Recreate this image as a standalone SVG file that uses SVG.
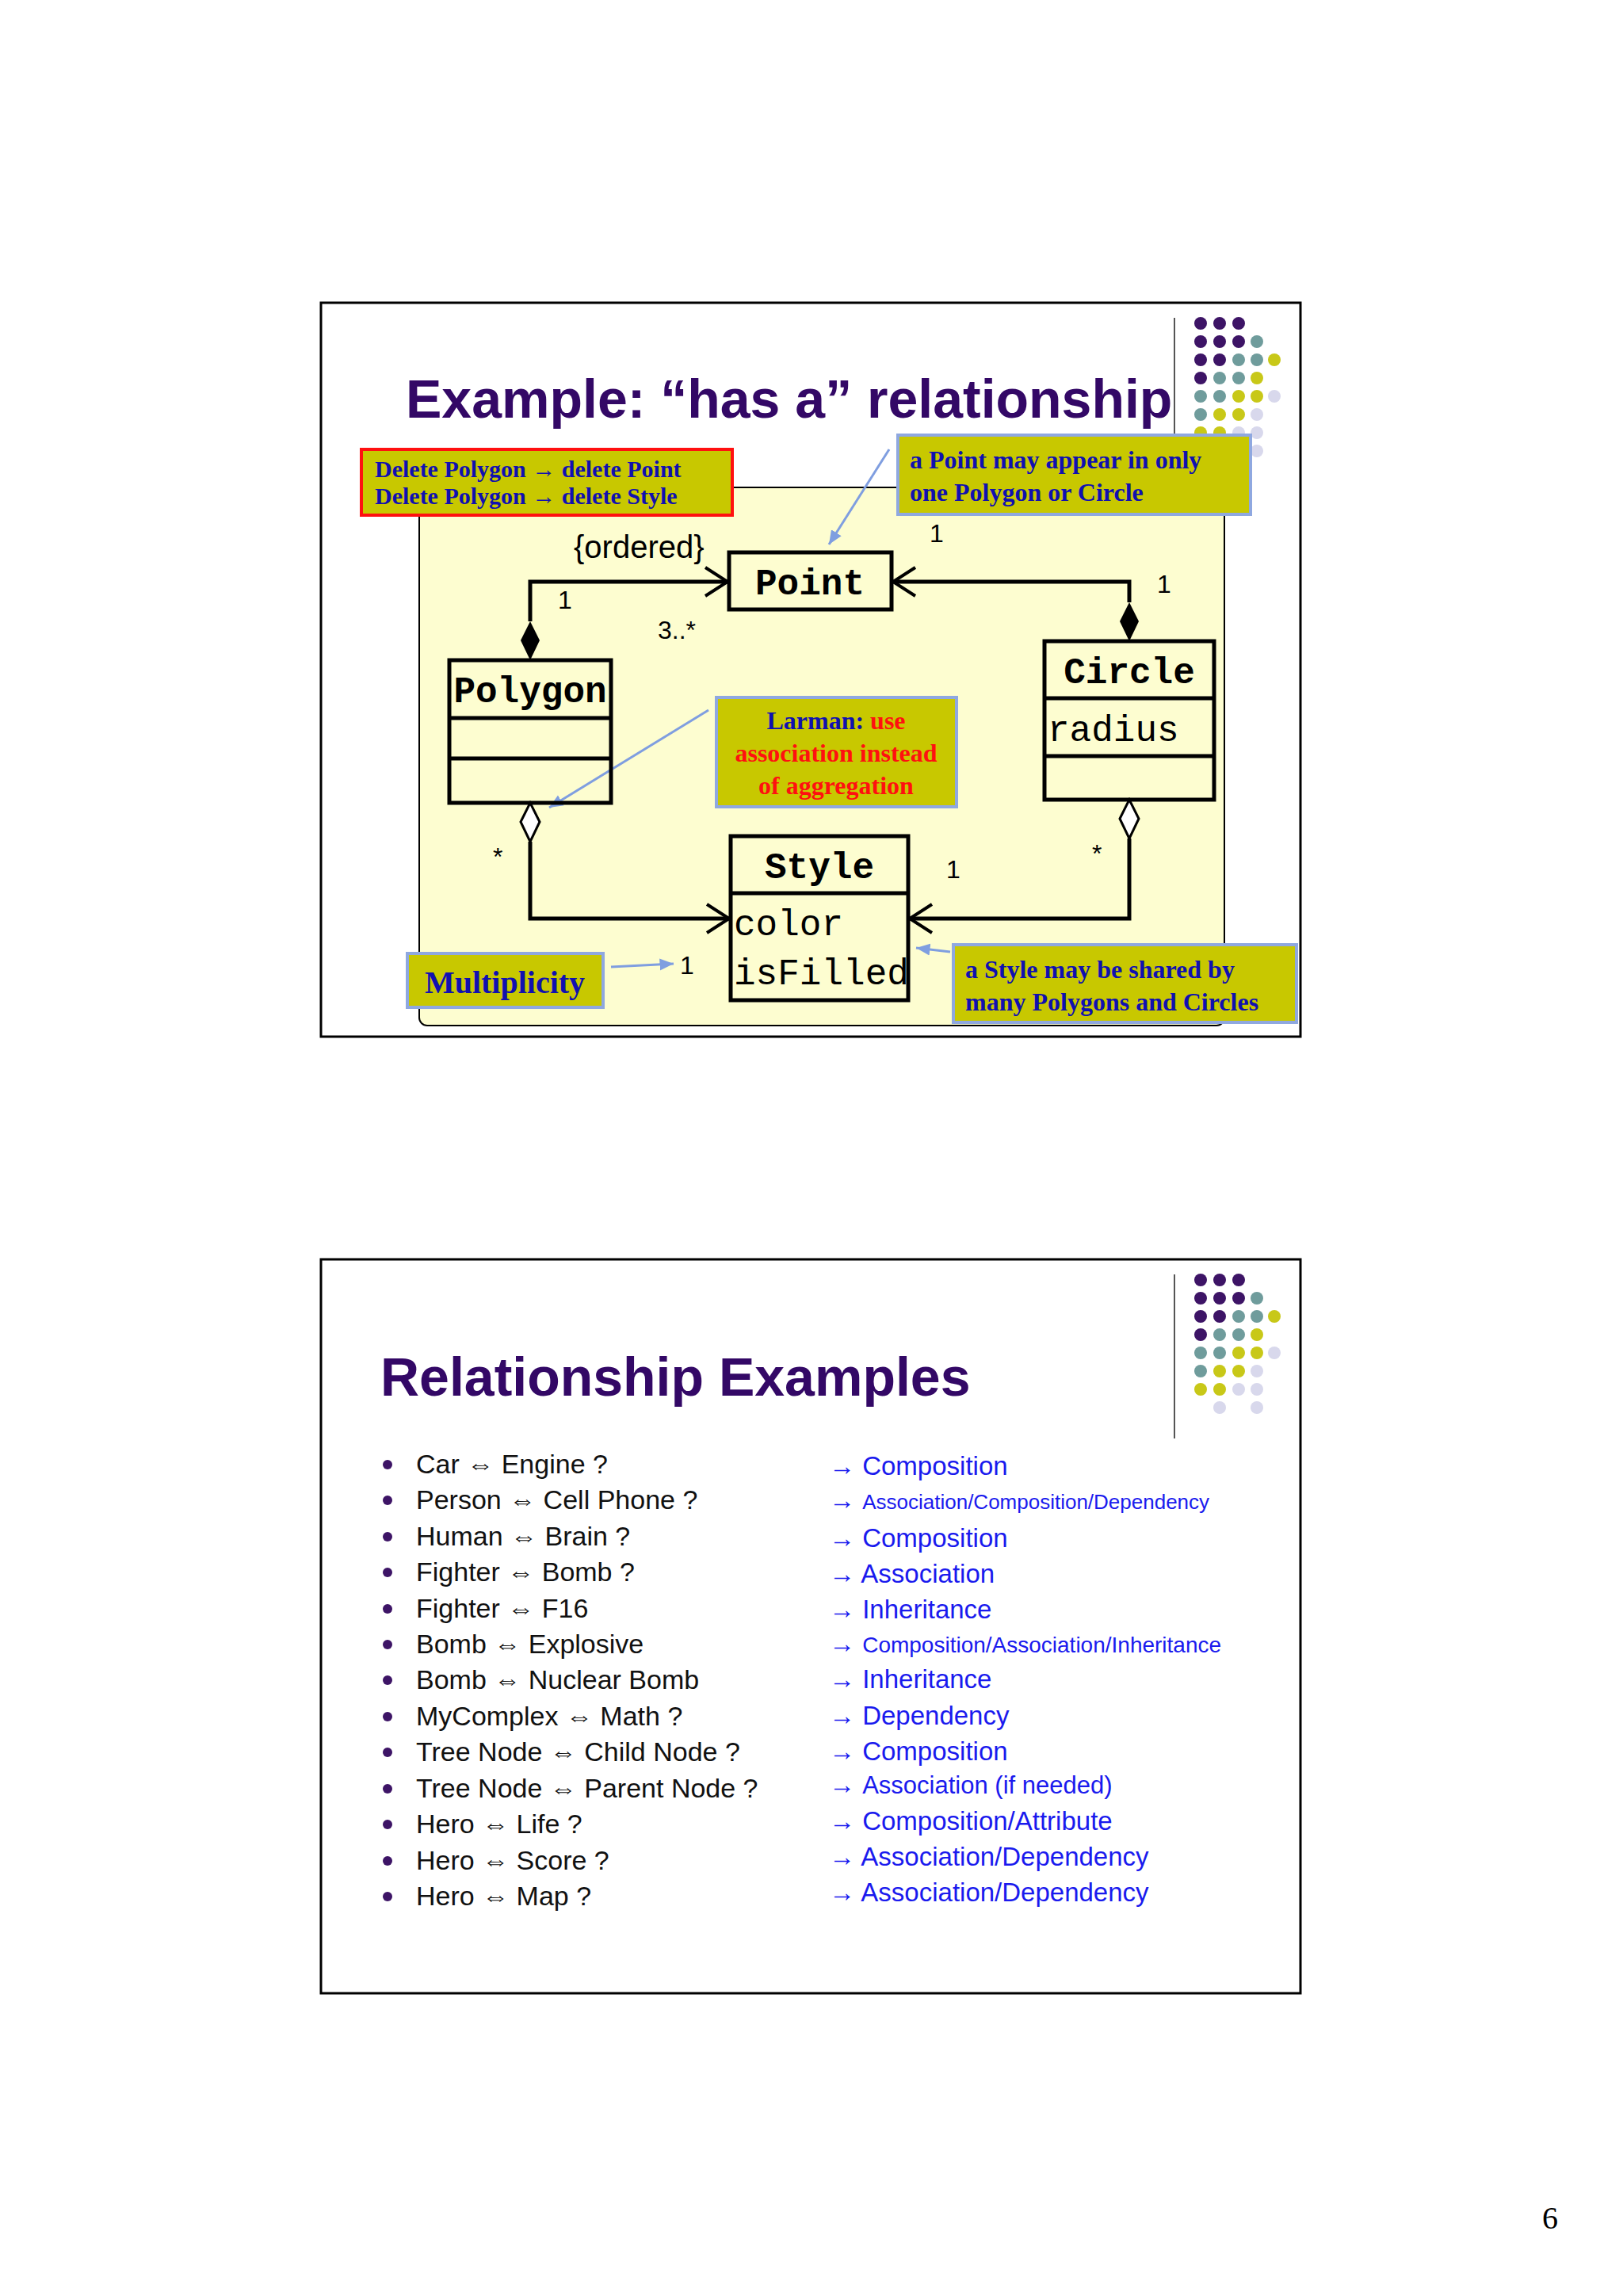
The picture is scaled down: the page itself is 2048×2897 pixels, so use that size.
<svg xmlns="http://www.w3.org/2000/svg" width="2048" height="2897" viewBox="0 0 2048 2897">
<defs>
<style>
.frame{fill:#fff;stroke:#000;stroke-width:3}
.title{font-family:"Liberation Sans",Arial,sans-serif;font-weight:bold;fill:#330866;font-size:68px}
.cls{fill:none;stroke:#000;stroke-width:5}
.mono{font-family:"Liberation Mono","DejaVu Sans Mono",monospace;font-size:46px;fill:#000}
.monob{font-family:"Liberation Mono","DejaVu Sans Mono",monospace;font-size:46px;font-weight:bold;fill:#000}
.line{fill:none;stroke:#000;stroke-width:5}
.lbl{font-family:"Liberation Sans",Arial,sans-serif;font-size:32px;fill:#000}
.note{fill:#c8c800;stroke:#8fa8e0;stroke-width:4}
.nt{font-family:"Liberation Serif","Times New Roman",serif;font-weight:bold;font-size:32px;fill:#1010b0}
.red{fill:#ff1010}
.pt{stroke:#7f9ee0;stroke-width:3;fill:none}
.item{font-family:"Liberation Sans",Arial,"DejaVu Sans",sans-serif;font-size:34px;fill:#111}
.ans{font-family:"Liberation Sans",Arial,"DejaVu Sans",sans-serif;font-size:33px;fill:#1a1aee}
.p{fill:#3d1466}.t{fill:#6f9c9c}.y{fill:#c8c818}.l{fill:#d8d8ec}
</style>
<marker id="open" markerWidth="40" markerHeight="40" refX="0" refY="0" viewBox="-30 -20 40 40" orient="auto" markerUnits="userSpaceOnUse">
<path d="M-28,-18 L0,0 L-28,18" fill="none" stroke="#000" stroke-width="4"/>
</marker>
<marker id="blue" markerWidth="20" markerHeight="20" refX="0" refY="0" viewBox="-14 -8 16 16" orient="auto" markerUnits="userSpaceOnUse">
<path d="M-14,-6 L0,0 L-14,6 z" fill="#7f9ee0"/>
</marker>
<g id="dots">
<circle class="p" cx="0" cy="0" r="8"/><circle class="p" cx="24" cy="0" r="8"/><circle class="p" cx="48" cy="0" r="8"/>
<circle class="p" cx="0" cy="23" r="8"/><circle class="p" cx="24" cy="23" r="8"/><circle class="p" cx="48" cy="23" r="8"/><circle class="t" cx="71" cy="23" r="8"/>
<circle class="p" cx="0" cy="46" r="8"/><circle class="p" cx="24" cy="46" r="8"/><circle class="t" cx="48" cy="46" r="8"/><circle class="t" cx="71" cy="46" r="8"/><circle class="y" cx="93" cy="46" r="8"/>
<circle class="p" cx="0" cy="69" r="8"/><circle class="t" cx="24" cy="69" r="8"/><circle class="t" cx="48" cy="69" r="8"/><circle class="y" cx="71" cy="69" r="8"/>
<circle class="t" cx="0" cy="92" r="8"/><circle class="t" cx="24" cy="92" r="8"/><circle class="y" cx="48" cy="92" r="8"/><circle class="y" cx="71" cy="92" r="8"/><circle class="l" cx="93" cy="92" r="8"/>
<circle class="t" cx="0" cy="115" r="8"/><circle class="y" cx="24" cy="115" r="8"/><circle class="y" cx="48" cy="115" r="8"/><circle class="l" cx="71" cy="115" r="8"/>
<circle class="y" cx="0" cy="138" r="8"/><circle class="y" cx="24" cy="138" r="8"/><circle class="l" cx="48" cy="138" r="8"/><circle class="l" cx="71" cy="138" r="8"/>
<circle class="l" cx="24" cy="161" r="8"/><circle class="l" cx="71" cy="161" r="8"/>
</g>
</defs>
<rect width="2048" height="2897" fill="#fff"/>

<!-- Slide 1 -->
<g id="slide1">
<rect class="frame" x="405" y="382" width="1236" height="926"/>
<line x1="1482" y1="401" x2="1482" y2="554" stroke="#555" stroke-width="2"/>
<use href="#dots" x="1515" y="408"/>
<text class="title" x="512" y="527">Example: “has a” relationship</text>
<rect x="529" y="615" width="1016" height="679" fill="#fdfdd0" stroke="#000" stroke-width="2" rx="10"/>
</g>

<g id="connectors">
<polyline class="line" points="669,784 669,734 918,734" marker-end="url(#open)"/>
<path d="M669,784 L681,808 L669,833 L657,808 z" fill="#000"/>
<polyline class="line" points="1425,760 1425,734 1127,734" marker-end="url(#open)"/>
<path d="M1425,760 L1437,784 L1425,809 L1413,784 z" fill="#000"/>
<polyline class="line" points="669,1062 669,1159 920,1159" marker-end="url(#open)"/>
<path d="M669,1013 L681,1037 L669,1062 L657,1037 z" fill="#fff" stroke="#000" stroke-width="3"/>
<polyline class="line" points="1425,1058 1425,1159 1148,1159" marker-end="url(#open)"/>
<path d="M1425,1009 L1437,1033 L1425,1058 L1413,1033 z" fill="#fff" stroke="#000" stroke-width="3"/>
<line class="pt" x1="1122" y1="567" x2="1046" y2="687" marker-end="url(#blue)"/>
<line class="pt" x1="894" y1="896" x2="693" y2="1019" marker-end="url(#blue)"/>
<line class="pt" x1="771" y1="1220" x2="850" y2="1216" marker-end="url(#blue)"/>
<line class="pt" x1="1199" y1="1201" x2="1156" y2="1196" marker-end="url(#blue)"/>
</g>

<g id="labels">
<text class="lbl" x="724" y="704" font-size="40" style="font-size:40px">{ordered}</text>
<text class="lbl" x="704" y="768">1</text>
<text class="lbl" x="830" y="806">3..*</text>
<text class="lbl" x="1173" y="684">1</text>
<text class="lbl" x="1460" y="748">1</text>
<text class="lbl" x="622" y="1092">*</text>
<text class="lbl" x="1194" y="1108">1</text>
<text class="lbl" x="1378" y="1088">*</text>
<text class="lbl" x="858" y="1229">1</text>
</g>

<g id="Point">
<rect class="cls" x="920" y="697" width="205" height="72" fill="#fff"/>
<text class="monob" x="1022" y="750" text-anchor="middle">Point</text>
</g>
<g id="Polygon">
<rect class="cls" x="567" y="833" width="204" height="180" fill="#fff"/>
<line class="cls" x1="567" y1="906" x2="771" y2="906"/>
<line class="cls" x1="567" y1="957" x2="771" y2="957"/>
<text class="monob" x="669" y="886" text-anchor="middle">Polygon</text>
</g>
<g id="Circle">
<rect class="cls" x="1318" y="809" width="214" height="200" fill="#fff"/>
<line class="cls" x1="1318" y1="881" x2="1532" y2="881"/>
<line class="cls" x1="1318" y1="954" x2="1532" y2="954"/>
<text class="monob" x="1425" y="862" text-anchor="middle">Circle</text>
<text class="mono" x="1322" y="935">radius</text>
</g>
<g id="Style">
<rect class="cls" x="922" y="1055" width="224" height="207" fill="#fff"/>
<line class="cls" x1="922" y1="1127" x2="1146" y2="1127"/>
<text class="monob" x="1034" y="1108" text-anchor="middle">Style</text>
<text class="mono" x="926" y="1180">color</text>
<text class="mono" x="926" y="1242">isFilled</text>
</g>

<g id="noteDelete">
<rect x="456" y="567" width="468" height="83" fill="#c8c800" stroke="#ff1010" stroke-width="4"/>
<text class="nt" x="473" y="602" style="font-size:30px">Delete Polygon → delete Point</text>
<text class="nt" x="473" y="636" style="font-size:30px">Delete Polygon → delete Style</text>
</g>
<g id="notePoint">
<rect class="note" x="1133" y="549" width="445" height="100"/>
<text class="nt" x="1148" y="591">a Point may appear in only</text>
<text class="nt" x="1148" y="632">one Polygon or Circle</text>
</g>
<g id="noteLarman">
<rect class="note" x="904" y="880" width="303" height="138"/>
<text class="nt" x="1055" y="920" text-anchor="middle">Larman: <tspan class="red">use</tspan></text>
<text class="nt red" x="1055" y="961" text-anchor="middle">association instead</text>
<text class="nt red" x="1055" y="1002" text-anchor="middle">of aggregation</text>
</g>
<g id="noteMult">
<rect class="note" x="514" y="1203" width="247" height="68"/>
<text class="nt" x="637" y="1253" text-anchor="middle" style="font-size:40px">Multiplicity</text>
</g>
<g id="noteStyle">
<rect class="note" x="1203" y="1192" width="433" height="98"/>
<text class="nt" x="1218" y="1234">a Style may be shared by</text>
<text class="nt" x="1218" y="1275">many Polygons and Circles</text>
</g>

<!-- Slide 2 -->
<g id="slide2">
<rect class="frame" x="405" y="1589" width="1236" height="926"/>
<line x1="1482" y1="1608" x2="1482" y2="1815" stroke="#555" stroke-width="2"/>
<use href="#dots" x="1515" y="1615"/>
<text class="title" x="480" y="1761">Relationship Examples</text>
<g fill="#3d1466">
<circle cx="489" cy="1848" r="6"/><circle cx="489" cy="1893" r="6"/><circle cx="489" cy="1939" r="6"/><circle cx="489" cy="1984" r="6"/><circle cx="489" cy="2030" r="6"/><circle cx="489" cy="2075" r="6"/><circle cx="489" cy="2120" r="6"/><circle cx="489" cy="2166" r="6"/><circle cx="489" cy="2211" r="6"/><circle cx="489" cy="2257" r="6"/><circle cx="489" cy="2302" r="6"/><circle cx="489" cy="2348" r="6"/><circle cx="489" cy="2393" r="6"/>
</g>
<g class="item">
<text x="525" y="1859">Car ⇔ Engine ?</text>
<text x="525" y="1904">Person ⇔ Cell Phone ?</text>
<text x="525" y="1950">Human ⇔ Brain ?</text>
<text x="525" y="1995">Fighter ⇔ Bomb ?</text>
<text x="525" y="2041">Fighter ⇔ F16</text>
<text x="525" y="2086">Bomb ⇔ Explosive</text>
<text x="525" y="2131">Bomb ⇔ Nuclear Bomb</text>
<text x="525" y="2177">MyComplex ⇔ Math ?</text>
<text x="525" y="2222">Tree Node ⇔ Child Node ?</text>
<text x="525" y="2268">Tree Node ⇔ Parent Node ?</text>
<text x="525" y="2313">Hero ⇔ Life ?</text>
<text x="525" y="2359">Hero ⇔ Score ?</text>
<text x="525" y="2404">Hero ⇔ Map ?</text>
</g>
<g class="ans">
<text x="1046" y="1861">→ Composition</text>
<text x="1046" y="1904"><tspan>→ </tspan><tspan style="font-size:26px">Association/Composition/Dependency</tspan></text>
<text x="1046" y="1952">→ Composition</text>
<text x="1046" y="1997">→ Association</text>
<text x="1046" y="2042">→ Inheritance</text>
<text x="1046" y="2085"><tspan>→ </tspan><tspan style="font-size:28px">Composition/Association/Inheritance</tspan></text>
<text x="1046" y="2130">→ Inheritance</text>
<text x="1046" y="2176">→ Dependency</text>
<text x="1046" y="2221">→ Composition</text>
<text x="1046" y="2263"><tspan>→ </tspan><tspan style="font-size:31px">Association (if needed)</tspan></text>
<text x="1046" y="2309">→ Composition/Attribute</text>
<text x="1046" y="2354">→ Association/Dependency</text>
<text x="1046" y="2399">→ Association/Dependency</text>
</g>
</g>
<text x="1946" y="2812" font-family="Liberation Serif,serif" font-size="40" fill="#000">6</text>
</svg>
